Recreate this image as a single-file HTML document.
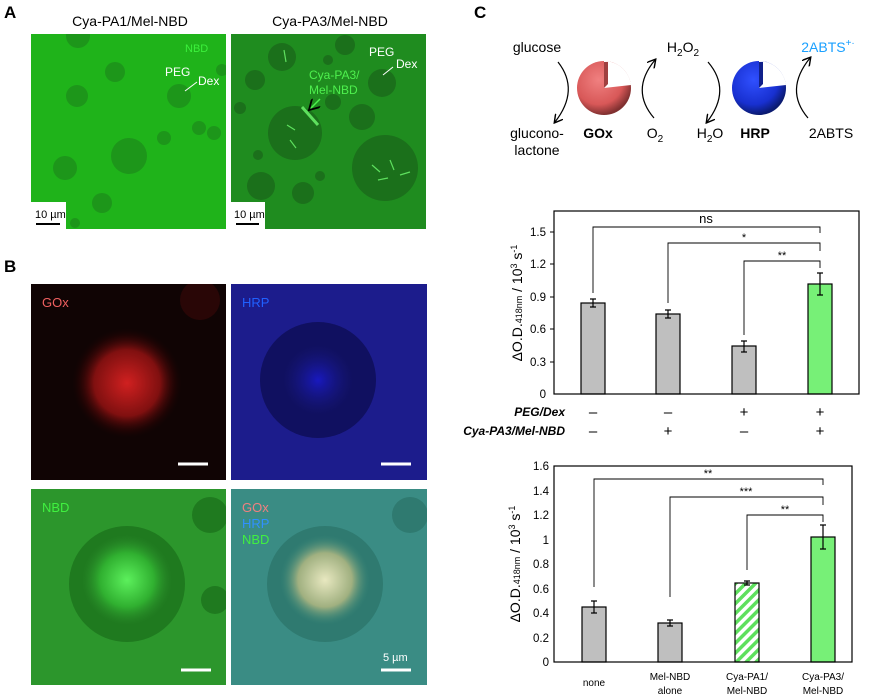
<!DOCTYPE html><html><head><style>body{margin:0;background:#fff}svg{display:block;font-family:"Liberation Sans",Arial,sans-serif}</style></head><body>
<svg width="870" height="698" viewBox="0 0 870 698" xmlns="http://www.w3.org/2000/svg">
<defs>
<clipPath id="cA1"><rect x="31" y="34" width="195" height="195"/></clipPath>
<clipPath id="cA2"><rect x="231" y="34" width="195" height="195"/></clipPath>
<clipPath id="cB1"><rect x="31" y="284" width="195" height="196"/></clipPath>
<clipPath id="cB2"><rect x="231" y="284" width="196" height="196"/></clipPath>
<clipPath id="cB3"><rect x="31" y="489" width="195" height="196"/></clipPath>
<clipPath id="cB4"><rect x="231" y="489" width="196" height="196"/></clipPath>
<radialGradient id="red" cx="50%" cy="50%" r="50%"><stop offset="0" stop-color="#d02020"/><stop offset="0.6" stop-color="#801010"/><stop offset="1" stop-color="#200000" stop-opacity="0"/></radialGradient>
<radialGradient id="blue" cx="50%" cy="50%" r="50%"><stop offset="0" stop-color="#1818c0"/><stop offset="1" stop-color="#1a1a80" stop-opacity="0"/></radialGradient>
<radialGradient id="grn" cx="50%" cy="50%" r="50%"><stop offset="0" stop-color="#5cf05c"/><stop offset="0.6" stop-color="#30b030"/><stop offset="1" stop-color="#2a8a2a" stop-opacity="0"/></radialGradient>
<radialGradient id="mrg" cx="50%" cy="50%" r="50%"><stop offset="0" stop-color="#e8e8c0"/><stop offset="0.6" stop-color="#a0b080"/><stop offset="1" stop-color="#3a8a7a" stop-opacity="0"/></radialGradient>
<radialGradient id="gox" cx="40%" cy="35%" r="65%"><stop offset="0" stop-color="#f08080"/><stop offset="0.7" stop-color="#d85858"/><stop offset="1" stop-color="#803030"/></radialGradient>
<radialGradient id="hrp" cx="40%" cy="35%" r="65%"><stop offset="0" stop-color="#3050ff"/><stop offset="0.7" stop-color="#1830d0"/><stop offset="1" stop-color="#0a1a70"/></radialGradient>
<pattern id="hatch" width="7" height="7" patternUnits="userSpaceOnUse" patternTransform="rotate(45)"><rect width="7" height="7" fill="#fff"/><rect width="3.5" height="7" fill="#5ee05e"/></pattern>
<marker id="ah" markerWidth="8" markerHeight="8" refX="6" refY="4" orient="auto"><path d="M0,0 L7,4 L0,8" fill="none" stroke="#000" stroke-width="1.2"/></marker>
</defs>
<g font-weight="bold" font-size="17"><text x="4" y="18">A</text><text x="4" y="272">B</text><text x="474" y="18">C</text></g>
<g font-size="14" text-anchor="middle"><text x="130" y="26">Cya-PA1/Mel-NBD</text><text x="330" y="26">Cya-PA3/Mel-NBD</text></g>
<!-- A1 -->
<rect x="31" y="34" width="195" height="195" fill="#1fb31a"/>
<g fill="#1d961a" clip-path="url(#cA1)">
<circle cx="78" cy="36" r="12"/><circle cx="115" cy="72" r="10"/><circle cx="77" cy="96" r="11"/><circle cx="179" cy="96" r="12"/><circle cx="129" cy="156" r="18"/><circle cx="65" cy="168" r="12"/><circle cx="102" cy="203" r="10"/><circle cx="199" cy="128" r="7"/><circle cx="214" cy="133" r="7"/><circle cx="164" cy="138" r="7"/><circle cx="222" cy="70" r="6"/><circle cx="75" cy="223" r="5"/></g>
<text x="185" y="52" fill="#3cf03c" font-size="11">NBD</text>
<text x="165" y="76" fill="#fff" font-size="12">PEG</text><text x="198" y="85" fill="#fff" font-size="12">Dex</text>
<line x1="185" y1="91" x2="197" y2="82" stroke="#fff"/>
<rect x="31" y="202" width="35" height="27" fill="#fff"/><text x="35" y="218" font-size="11">10 µm</text><line x1="36" y1="224" x2="60" y2="224" stroke="#000" stroke-width="2"/>
<!-- A2 -->
<rect x="231" y="34" width="195" height="195" fill="#1f8c1f"/>
<g fill="#1b701b" clip-path="url(#cA2)">
<circle cx="282" cy="57" r="14"/><circle cx="255" cy="80" r="10"/><circle cx="382" cy="83" r="14"/><circle cx="362" cy="117" r="13"/><circle cx="295" cy="133" r="27"/><circle cx="385" cy="168" r="33"/><circle cx="261" cy="186" r="14"/><circle cx="303" cy="193" r="11"/><circle cx="345" cy="45" r="10"/><circle cx="333" cy="102" r="8"/><circle cx="240" cy="108" r="6"/><circle cx="258" cy="155" r="5"/><circle cx="320" cy="176" r="5"/><circle cx="328" cy="60" r="5"/></g>
<g stroke="#5ee05e" stroke-width="1.2"><line x1="302" y1="107" x2="318" y2="125" stroke-width="3"/><line x1="287" y1="125" x2="295" y2="130"/><line x1="290" y1="140" x2="296" y2="148"/><line x1="372" y1="165" x2="380" y2="172"/><line x1="390" y1="160" x2="394" y2="170"/><line x1="400" y1="175" x2="410" y2="172"/><line x1="378" y1="180" x2="388" y2="178"/><line x1="284" y1="50" x2="286" y2="62"/></g>
<text x="309" y="79" fill="#4ef04e" font-size="12">Cya-PA3/</text><text x="309" y="94" fill="#4ef04e" font-size="12">Mel-NBD</text>
<line x1="320" y1="99" x2="310" y2="109" stroke="#4ef04e" stroke-width="1.5" marker-end="url(#ah)"/>
<text x="369" y="56" fill="#fff" font-size="12">PEG</text><text x="396" y="68" fill="#fff" font-size="12">Dex</text>
<line x1="383" y1="75" x2="393" y2="67" stroke="#fff"/>
<rect x="231" y="202" width="34" height="27" fill="#fff"/><text x="234" y="218" font-size="11">10 µm</text><line x1="236" y1="224" x2="259" y2="224" stroke="#000" stroke-width="2"/>
<!-- B -->
<rect x="31" y="284" width="195" height="196" fill="#100404"/>
<g clip-path="url(#cB1)"><circle cx="127" cy="383" r="55" fill="url(#red)"/><circle cx="200" cy="300" r="20" fill="#3a0808" opacity=".6"/></g>
<text x="42" y="307" fill="#f06060" font-size="13">GOx</text><line x1="178" y1="464" x2="208" y2="464" stroke="#fff" stroke-width="3"/>
<rect x="231" y="284" width="196" height="196" fill="#1c1c8c"/>
<g clip-path="url(#cB2)"><circle cx="318" cy="380" r="58" fill="#101060"/><circle cx="318" cy="380" r="35" fill="url(#blue)"/></g>
<text x="242" y="307" fill="#2060ff" font-size="13">HRP</text><line x1="381" y1="464" x2="411" y2="464" stroke="#fff" stroke-width="3"/>
<rect x="31" y="489" width="195" height="196" fill="#2c962c"/>
<g clip-path="url(#cB3)"><circle cx="127" cy="584" r="58" fill="#1f7a1f"/><circle cx="127" cy="580" r="45" fill="url(#grn)"/><circle cx="210" cy="515" r="18" fill="#1f7a1f"/><circle cx="215" cy="600" r="14" fill="#1f7a1f"/></g>
<text x="42" y="512" fill="#40f040" font-size="13">NBD</text><line x1="181" y1="670" x2="211" y2="670" stroke="#fff" stroke-width="3"/>
<rect x="231" y="489" width="196" height="196" fill="#3a8c84"/>
<g clip-path="url(#cB4)"><circle cx="325" cy="584" r="58" fill="#2f7a70"/><circle cx="325" cy="580" r="45" fill="url(#mrg)"/><circle cx="410" cy="515" r="18" fill="#2f7a70"/></g>
<text x="242" y="512" fill="#f08080" font-size="13">GOx</text><text x="242" y="528" fill="#3090ff" font-size="13">HRP</text><text x="242" y="544" fill="#40f040" font-size="13">NBD</text>
<text x="383" y="661" fill="#fff" font-size="11">5 µm</text><line x1="381" y1="670" x2="411" y2="670" stroke="#fff" stroke-width="3"/>
<!-- C scheme -->
<g font-size="14" text-anchor="middle">
<text x="537" y="52">glucose</text><text x="537" y="138">glucono-</text><text x="537" y="155">lactone</text>
<text x="598" y="138" font-weight="bold">GOx</text><text x="655" y="138">O<tspan font-size="10" dy="4">2</tspan></text>
<text x="683" y="52">H<tspan font-size="10" dy="4">2</tspan><tspan dy="-4">O</tspan><tspan font-size="10" dy="4">2</tspan></text>
<text x="710" y="138">H<tspan font-size="10" dy="4">2</tspan><tspan dy="-4">O</tspan></text>
<text x="755" y="138" font-weight="bold">HRP</text><text x="831" y="138">2ABTS</text>
<text x="828" y="52" fill="#1aa0ff">2ABTS<tspan font-size="10" dy="-6">+·</tspan></text></g>
<g fill="none" stroke="#000" stroke-width="1.2">
<path d="M558,62 Q580,90 555,122" marker-end="url(#ah)"/>
<path d="M654,118 Q630,90 655,60" marker-end="url(#ah)"/>
<path d="M708,62 Q732,90 707,122" marker-end="url(#ah)"/>
<path d="M808,118 Q784,90 810,58" marker-end="url(#ah)"/></g>
<circle cx="604" cy="88" r="27" fill="url(#gox)"/><path d="M604,88 L604,61 A27,27 0 0 1 631,85 Z" fill="#fff"/><path d="M604,88 L604,62 L608,62 L608,84 Z" fill="#a04040"/>
<circle cx="759" cy="88" r="27" fill="url(#hrp)"/><path d="M759,88 L759,61 A27,27 0 0 1 786,85 Z" fill="#fff"/><path d="M759,88 L759,62 L763,62 L763,84 Z" fill="#10208a"/>
<!-- Chart 1 -->
<g font-size="11.5" text-anchor="end">
<text x="546" y="236">1.5</text><text x="546" y="268">1.2</text><text x="546" y="301">0.9</text><text x="546" y="333">0.6</text><text x="546" y="366">0.3</text><text x="546" y="398">0</text></g>
<g stroke="#000"><line x1="550" y1="232" x2="554" y2="232"/><line x1="550" y1="264" x2="554" y2="264"/><line x1="550" y1="297" x2="554" y2="297"/><line x1="550" y1="329" x2="554" y2="329"/><line x1="550" y1="362" x2="554" y2="362"/></g>
<text transform="translate(522,303) rotate(-90)" text-anchor="middle" font-size="14">ΔO.D.<tspan font-size="9">418nm</tspan> / 10<tspan font-size="9" dy="-5">3</tspan><tspan dy="5"> s</tspan><tspan font-size="9" dy="-5">-1</tspan></text>
<g stroke="#000" stroke-width="1.2">
<rect x="581" y="303" width="24" height="91" fill="#bfbfbf"/><rect x="656" y="314" width="24" height="80" fill="#bfbfbf"/><rect x="732" y="346" width="24" height="48" fill="#bfbfbf"/><rect x="808" y="284" width="24" height="110" fill="#77f077"/>
<path d="M593,299V307M590,299H596M590,307H596 M668,310V318M665,310H671M665,318H671 M744,341V352M741,341H747M741,352H747 M820,273V295M817,273H823M817,295H823" fill="none"/></g>
<rect x="554" y="211" width="305" height="183" fill="none" stroke="#000" stroke-width="1.2"/>
<g fill="none" stroke="#000" stroke-width="0.9"><path d="M593,293V227H820V233"/><path d="M668,303V243H820V251"/><path d="M744,335V261H820V268"/></g>
<g font-size="13" text-anchor="middle"><text x="706" y="223">ns</text><text x="744" y="241" font-size="11">*</text><text x="782" y="259" font-size="11">**</text></g>
<g font-size="12" font-weight="bold" font-style="italic" text-anchor="end"><text x="565" y="416">PEG/Dex</text><text x="565" y="435">Cya-PA3/Mel-NBD</text></g>
<g font-size="15" text-anchor="middle"><text x="593" y="417">–</text><text x="668" y="417">–</text><text x="744" y="417">+</text><text x="820" y="417">+</text><text x="593" y="436">–</text><text x="668" y="436">+</text><text x="744" y="436">–</text><text x="820" y="436">+</text></g>
<!-- Chart 2 -->
<g font-size="11.5" text-anchor="end">
<text x="549" y="470">1.6</text><text x="549" y="495">1.4</text><text x="549" y="519">1.2</text><text x="549" y="544">1</text><text x="549" y="568">0.8</text><text x="549" y="593">0.6</text><text x="549" y="617">0.4</text><text x="549" y="642">0.2</text><text x="549" y="666">0</text></g>
<text transform="translate(520,564) rotate(-90)" text-anchor="middle" font-size="14">ΔO.D.<tspan font-size="9">418nm</tspan> / 10<tspan font-size="9" dy="-5">3</tspan><tspan dy="5"> s</tspan><tspan font-size="9" dy="-5">-1</tspan></text>
<g stroke="#000" stroke-width="1.2">
<rect x="582" y="607" width="24" height="55" fill="#bfbfbf"/><rect x="658" y="623" width="24" height="39" fill="#bfbfbf"/><rect x="735" y="583" width="24" height="79" fill="url(#hatch)"/><rect x="811" y="537" width="24" height="125" fill="#77f077"/>
<path d="M594,601V613M591,601H597M591,613H597 M670,620V626M667,620H673M667,626H673 M747,581V585M744,581H750M744,585H750 M823,525V549M820,525H826M820,549H826" fill="none"/></g>
<rect x="554" y="466" width="298" height="196" fill="none" stroke="#000" stroke-width="1.2"/>
<g fill="none" stroke="#000" stroke-width="0.9"><path d="M594,587V479H823V485"/><path d="M670,597V497H823V505"/><path d="M747,570V515H823V522"/></g>
<g font-size="11" text-anchor="middle"><text x="708" y="477">**</text><text x="746" y="495">***</text><text x="785" y="513">**</text></g>
<g font-size="10" text-anchor="middle"><text x="594" y="686">none</text><text x="670" y="680">Mel-NBD</text><text x="670" y="694">alone</text><text x="747" y="680">Cya-PA1/</text><text x="747" y="694">Mel-NBD</text><text x="823" y="680">Cya-PA3/</text><text x="823" y="694">Mel-NBD</text></g>
</svg></body></html>
